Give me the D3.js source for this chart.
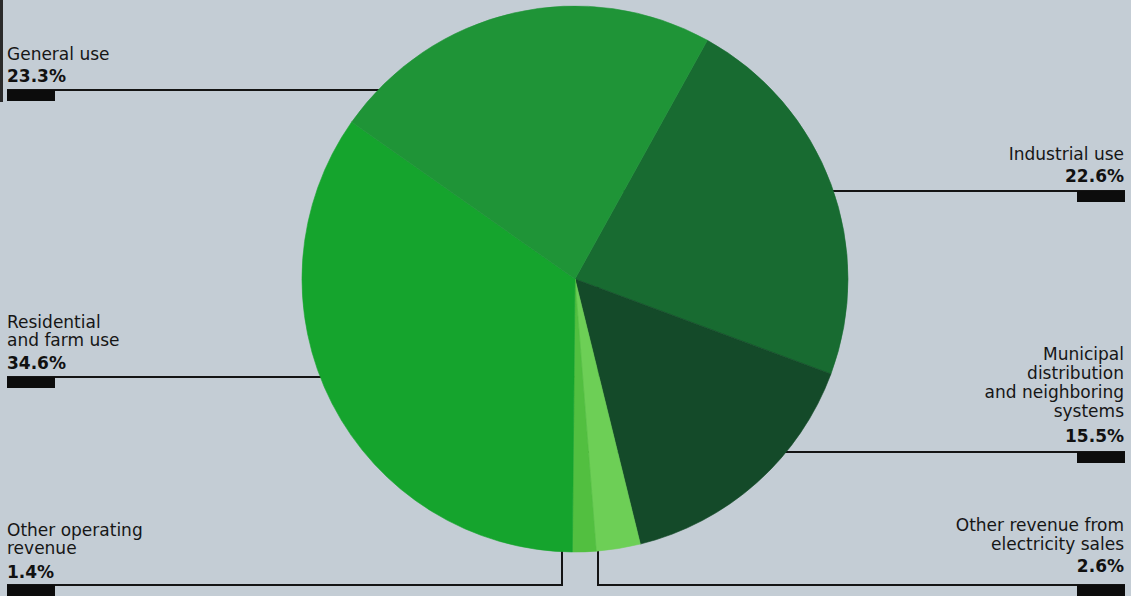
<!DOCTYPE html>
<html>
<head>
<meta charset="utf-8">
<script src="https://cdn.jsdelivr.net/npm/d3@7"></script>
<style>
  html, body { margin: 0; padding: 0; background: #c4cdd5; }
  svg { display: block; }
  .lbl { font-family: "DejaVu Sans", sans-serif; font-size: 17px; fill: #161616; }
  .pct { font-family: "DejaVu Sans", sans-serif; font-weight: bold; font-size: 17px; fill: #111; }
</style>
</head>
<body>
<svg id="chart" width="1131" height="596"></svg>
<script>
// Operating revenue by customer class, percent of total
const categories = [
  "Industrial use",
  "Municipal distribution and neighboring systems",
  "Other revenue from electricity sales",
  "Other operating revenue",
  "Residential and farm use",
  "General use"
];
const shares = [22.6, 15.5, 2.6, 1.4, 34.6, 23.3];
const labelLines = [
  ["Industrial use"],
  ["Municipal", "distribution", "and neighboring", "systems"],
  ["Other revenue from", "electricity sales"],
  ["Other operating", "revenue"],
  ["Residential", "and farm use"],
  ["General use"]
];

const sliceColors = ["#186b31", "#144a29", "#6dcf56", "#52bf40", "#15a42d", "#1f9437"];

// Label placement: side, text x, first baseline, line step, percent baseline, rule y,
// and for the bottom labels the x where the rule turns up into the pie
const layout = [
  { side: "right", x: 1124, y0: 160, step: 19, py: 182, ry: 191 },
  { side: "right", x: 1124, y0: 360, step: 19, py: 442, ry: 452 },
  { side: "right", x: 1124, y0: 531, step: 19, py: 572, ry: 585, up: 598 },
  { side: "left",  x: 7,    y0: 536, step: 18, py: 578, ry: 585, up: 562 },
  { side: "left",  x: 7,    y0: 328, step: 18, py: 369, ry: 377 },
  { side: "left",  x: 7,    y0: 60,  step: 18, py: 82,  ry: 90 }
];

const svg = d3.select("#chart");
const cx = 575, cy = 279, radius = 273;
const start = 29 * Math.PI / 180;

// page edge shadow at the upper left
svg.append("line").attr("x1", 1.5).attr("x2", 1.5).attr("y1", 0).attr("y2", 102)
  .attr("stroke", "#2a2a2a").attr("stroke-width", 3);

const data = categories.map((c, i) => ({ name: c, value: shares[i], lines: labelLines[i], lay: layout[i], color: sliceColors[i] }));

// leader rules run beneath the pie and end at its rim
const leaders = svg.append("g").attr("stroke", "#141414").attr("stroke-width", 2).attr("fill", "none");
data.forEach(d => {
  const L = d.lay;
  const path = d3.path();
  const x0 = L.side === "left" ? L.x : L.x + 1;
  path.moveTo(x0, L.ry);
  if (L.up !== undefined) {
    path.lineTo(L.up, L.ry);
    path.lineTo(L.up, cy);
  } else {
    path.lineTo(cx, L.ry);
  }
  leaders.append("path").attr("d", path.toString());
});

// black tab under each percentage
data.forEach(d => {
  const L = d.lay;
  const w = 48;
  svg.append("rect")
    .attr("x", L.side === "left" ? L.x : L.x + 1 - w)
    .attr("y", L.ry)
    .attr("width", w).attr("height", 11)
    .attr("fill", "#0c0c0c");
});

const pie = d3.pie().sort(null).value(d => d.value)
  .startAngle(start).endAngle(start + 2 * Math.PI);
const arc = d3.arc().innerRadius(0).outerRadius(radius);

svg.append("g").attr("transform", `translate(${cx},${cy})`)
  .selectAll("path").data(pie(data)).join("path")
  .attr("d", arc)
  .attr("fill", d => d.data.color)
  .attr("stroke", d => d.data.color)
  .attr("stroke-width", 0.6);

// text labels
data.forEach(d => {
  const L = d.lay;
  const anchor = L.side === "left" ? "start" : "end";
  d.lines.forEach((t, k) => {
    svg.append("text").attr("class", "lbl")
      .attr("x", L.x).attr("y", L.y0 + k * L.step)
      .attr("text-anchor", anchor).text(t);
  });
  svg.append("text").attr("class", "pct")
    .attr("x", L.x).attr("y", L.py)
    .attr("text-anchor", anchor).text(d3.format(".1f")(d.value) + "%");
});
</script>
</body>
</html>
